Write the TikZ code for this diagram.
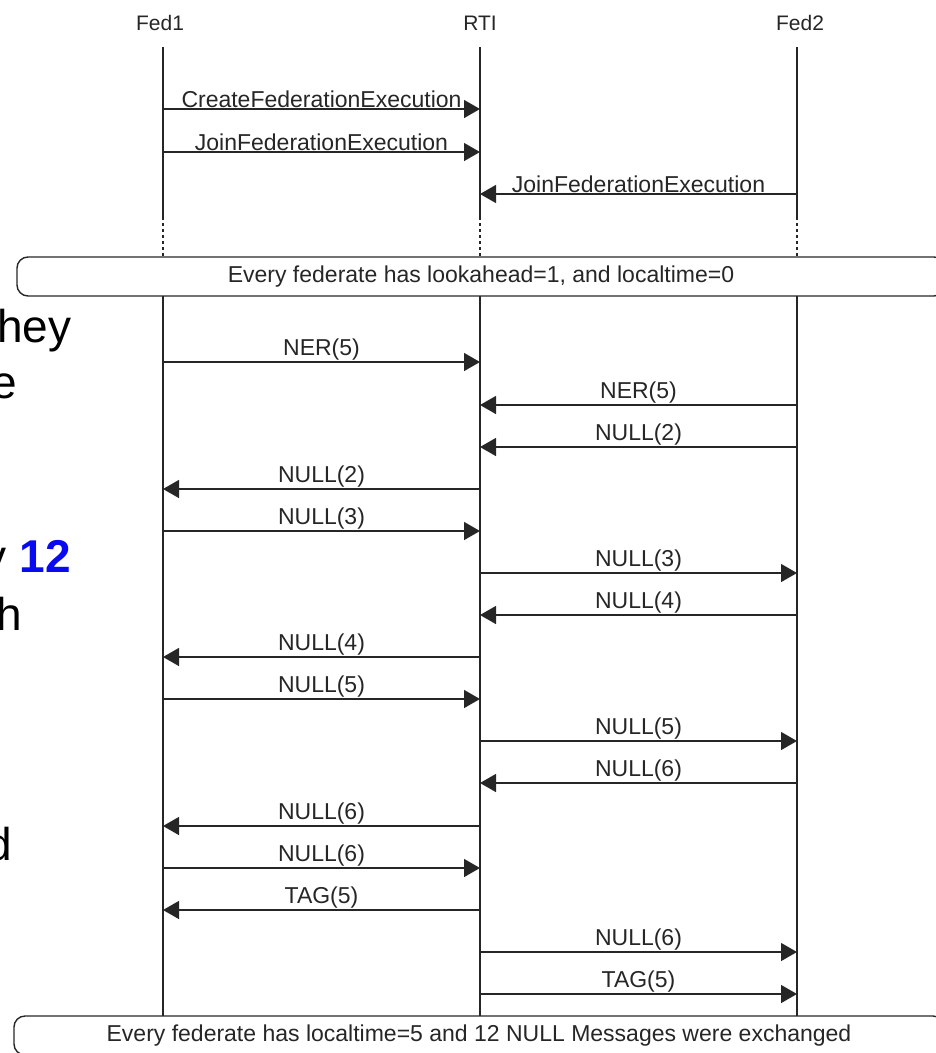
\documentclass[tikz,border=0pt]{standalone}
\usepackage{fontspec}
\setmainfont{Liberation Sans}
\usetikzlibrary{arrows.meta}
\definecolor{slideblue}{RGB}{10,10,240}
\begin{document}
\begin{tikzpicture}[x=1pt,y=-1pt,
  life/.style={line width=1.4pt, black!85},
  dotline/.style={line width=1.4pt, black!85, dash pattern=on 3pt off 3pt},
  msg/.style={line width=1.4pt, black!85, -{Triangle[length=16pt,width=18pt]}},
  lbl/.style={midway, above, inner sep=1pt, font=\fontsize{23}{26}\selectfont, text=black!85},
  hdr/.style={inner sep=0pt, anchor=base, font=\fontsize{21}{24}\selectfont, text=black!85},
  band/.style={draw, line width=1.4pt, black!85, rounded corners=11pt, inner sep=0pt,
    font=\fontsize{23}{26}\selectfont, text=black!85},
  frag/.style={inner sep=0pt, font=\fontsize{46}{52}\selectfont}]
\useasboundingbox (0,0) rectangle (936,1053);

% headers
\node[hdr] (h1) at (160,30) {Fed1};
\node[hdr] (h2) at (480,30) {RTI};
\node[hdr] (h3) at (800,30) {Fed2};

% lifeline anchor points
\foreach \n/\x in {A/163, B/480, C/797} {
  \coordinate (\n top) at (\x,47);
  \coordinate (\n sol) at (\x,217);
  \coordinate (\n dot) at (\x,257);
  \coordinate (\n mid) at (\x,296);
  \coordinate (\n bot) at (\x,1016);
}

% bands
\node[band, minimum width=928pt, minimum height=39pt] (band1) at (481,276.5)
  {Every federate has lookahead=1, and localtime=0};
\node[band, minimum width=930pt, minimum height=39pt] (band2) at (479,1035.5)
  {Every federate has localtime=5 and 12 NULL Messages were exchanged};

% lifelines
\foreach \n in {A,B,C} {
  \draw[life] (\n top) -- (\n sol);
  \draw[dotline] (\n sol) -- (\n dot);
  \draw[life] (\n mid) -- (\n bot);
}

% message points
\foreach \y in {109,152,194,362,405,447,489,531,573,615,657,699,741,783,826,868,910,952,994} {
  \coordinate (A\y) at (163,\y);
  \coordinate (B\y) at (480,\y);
  \coordinate (C\y) at (797,\y);
}

% messages
\foreach \y/\s/\t/\l in {
  109/A/B/CreateFederationExecution,
  152/A/B/JoinFederationExecution,
  194/C/B/JoinFederationExecution,
  362/A/B/NER(5),
  405/C/B/NER(5),
  447/C/B/NULL(2),
  489/B/A/NULL(2),
  531/A/B/NULL(3),
  573/B/C/NULL(3),
  615/C/B/NULL(4),
  657/B/A/NULL(4),
  699/A/B/NULL(5),
  741/B/C/NULL(5),
  783/C/B/NULL(6),
  826/B/A/NULL(6),
  868/A/B/NULL(6),
  910/B/A/TAG(5),
  952/B/C/NULL(6),
  994/B/C/TAG(5)} {
  \draw[msg] (\s\y) -- node[lbl]{\l} (\t\y);
}

% slide text fragments at the left edge
\node[frag, anchor=base west] (f1) at (-3,342) {hey};
\node[frag, anchor=base west] (f2) at (-9,398) {e};
\node[frag, anchor=base east] (f3) at (71,572) {y \textcolor{slideblue}{\textbf{12}}};
\node[frag, anchor=base west] (f4) at (-4,630) {h};
\node[frag, anchor=base west] (f5) at (-14,860) {d};
\end{tikzpicture}
\end{document}
